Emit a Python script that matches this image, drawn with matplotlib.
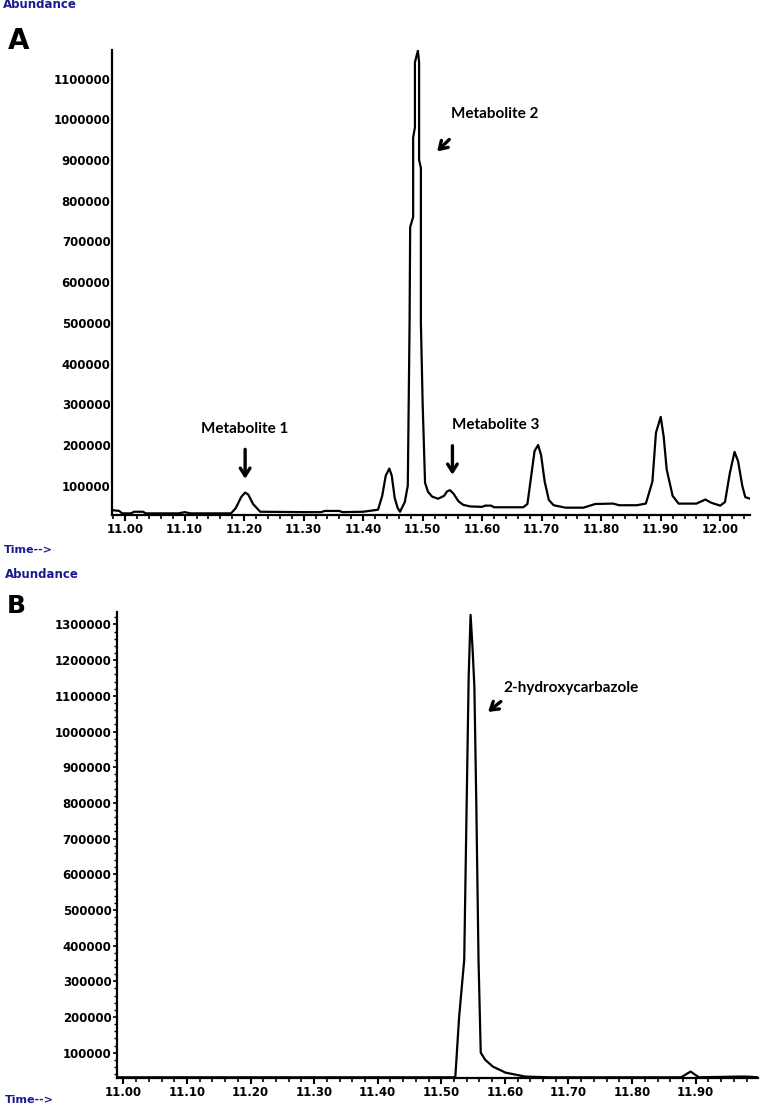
import matplotlib
matplotlib.use('Agg')
import matplotlib.pyplot as plt
from matplotlib.ticker import MultipleLocator, FormatStrFormatter

# panel A trace (retention time in min, abundance)
time_a = [10.978, 10.99, 10.995, 11.01, 11.015, 11.03, 11.035, 11.09, 11.10, 11.11,
          11.178, 11.186, 11.195, 11.2017, 11.207, 11.215, 11.227, 11.30, 11.33, 11.335,
          11.36, 11.365, 11.40, 11.425, 11.432, 11.438, 11.444, 11.448, 11.453, 11.458,
          11.462, 11.470, 11.475, 11.478, 11.479, 11.484, 11.484, 11.487, 11.487, 11.492,
          11.494, 11.494, 11.497, 11.497, 11.500, 11.504, 11.509, 11.516, 11.526, 11.536,
          11.541, 11.546, 11.552, 11.560, 11.568, 11.58, 11.60, 11.605, 11.615, 11.62,
          11.669, 11.676, 11.682, 11.688, 11.694, 11.699, 11.705, 11.712, 11.72, 11.74,
          11.77, 11.79, 11.82, 11.83, 11.86, 11.875, 11.886, 11.892, 11.90, 11.905,
          11.91, 11.92, 11.93, 11.96, 11.975, 11.985, 12.00, 12.008, 12.016, 12.024,
          12.03, 12.037, 12.042, 12.05]
abund_a = [40000, 38000, 32000, 32000, 36000, 36000, 32000, 32000, 35000, 32000,
           32000, 45000, 72000, 83000, 78000, 55000, 36000, 35000, 35000, 38000,
           38000, 35000, 36000, 41000, 75000, 125000, 142000, 125000, 70000, 45000,
           36000, 60000, 100000, 500000, 735000, 760000, 955000, 980000, 1140000, 1168000,
           1140000, 900000, 880000, 500000, 300000, 107000, 85000, 73000, 68000, 75000,
           86000, 89000, 80000, 62000, 53000, 49000, 48000, 51000, 51000, 47000,
           47000, 55000, 120000, 185000, 200000, 175000, 110000, 65000, 52000, 46000,
           46000, 55000, 56000, 52000, 52000, 56000, 110000, 230000, 269000, 220000,
           140000, 75000, 56000, 56000, 66000, 58000, 51000, 60000, 130000, 183000,
           160000, 100000, 72000, 68000]

# panel B trace
time_b = [10.99, 11.30, 11.50, 11.522, 11.528, 11.536, 11.543, 11.546, 11.549, 11.552,
          11.555, 11.5585, 11.562, 11.569, 11.581, 11.601, 11.632, 11.67, 11.78, 11.877,
          11.892, 11.905, 11.97, 11.98, 11.998]
abund_b = [31000, 31000, 31000, 31000, 200000, 360000, 1153000, 1327000, 1237000, 1125000,
           800000, 360000, 100000, 80000, 61000, 44000, 33000, 31000, 31000, 31000,
           47000, 31000, 33000, 33000, 31000]

ylabels_a = [100000 * k for k in range(1, 12)]
ylabels_b = [100000 * k for k in range(1, 14)]

W, H = 761, 1112
fig = plt.figure(figsize=(W / 100, H / 100), dpi=100)

def px_axes(left, top, right, bottom):
    return fig.add_axes([left / W, 1 - bottom / H, (right - left) / W, (bottom - top) / H])

tick_font = dict(family='DejaVu Sans', weight='bold', size=8.5)
blue = '#1b1b8f'

def style(ax, yt, minor_y):
    for s in ['top', 'right']:
        ax.spines[s].set_visible(False)
    for s in ['left', 'bottom']:
        ax.spines[s].set_linewidth(1.6)
    ax.xaxis.set_major_locator(MultipleLocator(0.1))
    ax.xaxis.set_minor_locator(MultipleLocator(0.02))
    ax.xaxis.set_major_formatter(FormatStrFormatter('%.2f'))
    ax.set_yticks(yt)
    ax.set_yticklabels([str(v) for v in yt])
    ax.tick_params(axis='x', which='major', direction='out', length=4, width=1.5, pad=2)
    ax.tick_params(axis='x', which='minor', direction='out', length=3, width=1.2)
    if minor_y:
        ax.yaxis.set_minor_locator(MultipleLocator(20000))
        ax.tick_params(axis='y', which='major', direction='out', length=3, width=1.2, pad=1)
        ax.tick_params(axis='y', which='minor', direction='out', length=2, width=1.0)
    else:
        # the A axis line is broken behind each label in the original
        ax.tick_params(axis='y', which='major', length=0, pad=1)
        ax.spines['left'].set_zorder(2.2)
    for lab in ax.get_xticklabels():
        lab.set_fontproperties(matplotlib.font_manager.FontProperties(**tick_font))
    for lab in ax.get_yticklabels():
        lab.set_fontproperties(matplotlib.font_manager.FontProperties(**tick_font))
        if not minor_y:
            lab.set_bbox(dict(boxstyle='square,pad=0.3', fc='white', ec='none'))

# ---- panel A
axA = px_axes(112, 50, 750, 515)
axA.plot(time_a, abund_a, color='black', lw=1.6)
axA.set_xlim(10.978, 12.05)
axA.set_ylim(28000, 1170000)
style(axA, ylabels_a, False)

ann_font = dict(family='Lato', weight='bold', size=11)
arrow = dict(arrowstyle='->, head_width=0.35, head_length=0.55', lw=2.4, color='black')
axA.text(11.2017, 240000, 'Metabolite 1', ha='center', va='center', **ann_font)
axA.annotate('', xy=(11.2017, 110000), xytext=(11.2017, 196000), arrowprops=arrow)
axA.text(11.548, 1014000, 'Metabolite 2', ha='left', va='center', **ann_font)
axA.annotate('', xy=(11.521, 916000), xytext=(11.548, 955000), arrowprops=arrow)
axA.text(11.622, 249500, 'Metabolite 3', ha='center', va='center', **ann_font)
axA.annotate('', xy=(11.55, 120000), xytext=(11.55, 205000), arrowprops=arrow)

# ---- panel B
axB = px_axes(117, 612, 758, 1078)
axB.plot(time_b, abund_b, color='black', lw=1.6)
axB.set_xlim(10.99, 11.998)
axB.set_ylim(29000, 1335000)
style(axB, ylabels_b, True)
axB.text(11.597, 1122000, '2-hydroxycarbazole', ha='left', va='center', **ann_font)
axB.annotate('', xy=(11.570, 1050000), xytext=(11.597, 1089000), arrowprops=arrow)

# labels outside axes
fig.text(3 / W, 1 - 5 / H, 'Abundance', color=blue, fontsize=8.5, weight='bold', va='center', ha='left')
fig.text(8 / W, 1 - 41 / H, 'A', fontsize=20, weight='bold', va='center', ha='left')
fig.text(4 / W, 1 - 550 / H, 'Time-->', color=blue, fontsize=8, weight='bold', va='center', ha='left')
fig.text(5 / W, 1 - 574 / H, 'Abundance', color=blue, fontsize=8.5, weight='bold', va='center', ha='left')
fig.text(7 / W, 1 - 606 / H, 'B', fontsize=18, weight='bold', va='center', ha='left')
fig.text(5 / W, 1 - 1100 / H, 'Time-->', color=blue, fontsize=8, weight='bold', va='center', ha='left')

fig.savefig('out.png', dpi=100)
